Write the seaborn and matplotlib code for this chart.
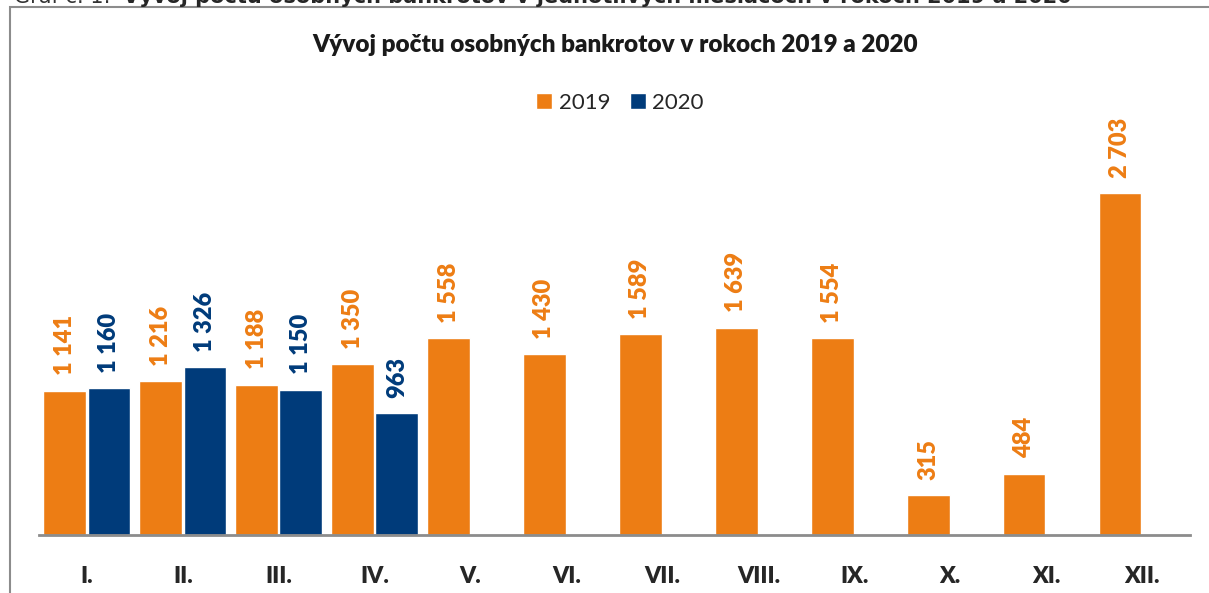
import numpy as np
import pandas as pd
import matplotlib
matplotlib.use("Agg")
import matplotlib.pyplot as plt
import seaborn as sns

# údaje z grafu
mesiace = ["I.", "II.", "III.", "IV.", "V.", "VI.", "VII.", "VIII.", "IX.", "X.", "XI.", "XII."]
bankroty_2019 = [1141, 1216, 1188, 1350, 1558, 1430, 1589, 1639, 1554, 315, 484, 2703]
bankroty_2020 = [1160, 1326, 1150, 963, None, None, None, None, None, None, None, None]
roky = ["2019", "2020"]
farby = ["#ED7D14", "#003B7A"]

df = pd.DataFrame({"Mesiac": mesiace, "2019": bankroty_2019, "2020": bankroty_2020})
df = df.melt(id_vars="Mesiac", var_name="Rok", value_name="Pocet").dropna()

sns.set_theme(style="white")
plt.rcParams["font.family"] = ["Lato", "DejaVu Sans"]

W, H = 1209, 593
fig = plt.figure(figsize=(W / 100, H / 100), dpi=100)
ax = fig.add_axes([39 / W, (H - 535) / H, (1190 - 39) / W, (535 - 120) / H])

sns.barplot(data=df, x="Mesiac", y="Pocet", hue="Rok", order=mesiace, hue_order=roky,
            palette=farby, width=0.92, gap=0.03, saturation=1, ax=ax)

ax.set_ylim(0, 415 / 0.1265)
ax.set_xlim(-0.5, len(mesiace) - 0.5)

# popisky hodnôt nad stĺpcami
for cont, farba in zip(ax.containers, farby):
    popisky = [f"{int(v):,}".replace(",", " ") for v in cont.datavalues]
    ax.bar_label(cont, labels=popisky, padding=11, rotation=90, fontsize=17,
                 fontweight="heavy", color=farba)

ax.set_xlabel("")
ax.set_ylabel("")
ax.set_yticks([])
ax.tick_params(axis="x", length=0, pad=22, labelsize=16.5)
for t in ax.get_xticklabels():
    t.set_fontweight("heavy")
for s in ["top", "left", "right"]:
    ax.spines[s].set_visible(False)
ax.spines["bottom"].set_color("#8C8C8C")
ax.spines["bottom"].set_linewidth(2)

sns.move_legend(ax, "center", bbox_to_anchor=(620 / W, 1 - 103 / H),
                bbox_transform=fig.transFigure, ncol=2, frameon=False, title=None,
                fontsize=16, handlelength=0.7, handleheight=0.7, handletextpad=0.3,
                columnspacing=0.9)

fig.text(615 / W, 1 - 45 / H, "Vývoj počtu osobných bankrotov v rokoch 2019 a 2020",
         ha="center", va="center", fontsize=17.5, fontweight="heavy", color="#1A1A1A")

# orámovanie grafu
ramec = plt.Rectangle((10 / W, -0.05), 1.2, 1 - 7 / H + 0.05, transform=fig.transFigure,
                      fill=False, edgecolor="#8C8C8C", linewidth=1.5)
fig.add_artist(ramec)

# orezaný popis grafu nad rámom
fig.text(14 / W, 1 - 3 / H, "Graf č. 1: ", ha="left", va="baseline", fontsize=15,
         family="DejaVu Sans", color="#333333")
fig.text(123 / W, 1 - 3 / H,
         "Vývoj počtu osobných bankrotov v jednotlivých mesiacoch v rokoch 2019 a 2020",
         ha="left", va="baseline", fontsize=15, fontweight="bold", family="DejaVu Sans")

fig.savefig("out.png", dpi=100)
